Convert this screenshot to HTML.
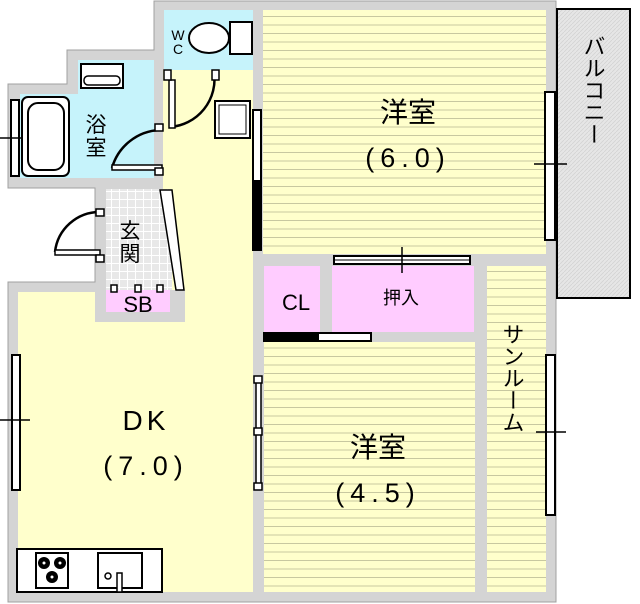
<!DOCTYPE html>
<html><head><meta charset="utf-8"><style>
html,body{margin:0;padding:0;background:#fff;}
svg{display:block}
text{font-family:"Liberation Sans","Noto Sans CJK JP",sans-serif;fill:#000}
</style></head><body>
<svg width="640" height="604" viewBox="0 0 640 604" xmlns="http://www.w3.org/2000/svg">
<defs>
<pattern id="ln" width="8" height="8.5" patternUnits="userSpaceOnUse"><rect width="8" height="8.5" fill="#ffffcc"/><line x1="0" y1="8" x2="8" y2="8" stroke="#c8c8a0" stroke-width="1"/></pattern>
<pattern id="gr" width="8" height="8" patternUnits="userSpaceOnUse"><rect width="8" height="8" fill="#e8e8e8"/><path d="M0 7.5H8M7.5 0V8" stroke="#fff" stroke-width="1"/></pattern>
<pattern id="ht" width="4" height="4" patternUnits="userSpaceOnUse"><rect width="4" height="4" fill="#e6e6e6"/><path d="M0 4L4 0" stroke="#d0d0d0" stroke-width="0.7"/></pattern>
</defs>
<!-- walls base -->
<g fill="#d4d4d4" stroke="#a0a0a0" stroke-width="1">
<polygon points="154,1 556,1 556,602 8,602 8,282 95,282 95,188 8,188 8,84 67,84 67,50 154,50"/>
</g>
<!-- rooms -->
<rect x="164" y="10" width="89" height="60" fill="#c6f3fb"/>
<polygon points="78,60 154,60 154,178 20,178 20,94 78,94" fill="#c6f3fb"/>
<polygon points="163,70 253,70 253,592 18,592 18,292 95,292 95,322 185,322 185,290 163,290" fill="#ffffcc"/>
<rect x="263" y="10" width="283" height="244" fill="url(#ln)"/>
<rect x="106" y="189" width="66" height="101" fill="url(#gr)"/>
<rect x="106" y="290" width="64" height="22" fill="#ffccff"/>
<rect x="264" y="266" width="56" height="66" fill="#ffccff"/>
<rect x="332" y="266" width="142" height="66" fill="#ffccff"/>
<rect x="264" y="342" width="211" height="250" fill="url(#ln)"/>
<rect x="487" y="266" width="59" height="326" fill="url(#ln)"/>
<!-- genkan slanted wall -->
<polygon points="160,190 172,190 184,290 176,290" fill="#fff" stroke="#000" stroke-width="1.5"/>
<!-- balcony -->
<rect x="557" y="9" width="73" height="289" fill="url(#ht)" stroke="#000" stroke-width="2"/>
<text x="593" y="90" font-size="22" text-anchor="middle" writing-mode="tb">バルコニー</text>
<!-- windows -->
<g fill="#fff" stroke="#000" stroke-width="2">
<rect x="545" y="92" width="10" height="148"/>
<rect x="546" y="355" width="9" height="160"/>
<rect x="12" y="355" width="8" height="135"/>
<rect x="11" y="100" width="8" height="76"/>
<rect x="334" y="256" width="136" height="8"/>
<rect x="253" y="110" width="8" height="140"/>
</g>
<g stroke="#000" stroke-width="1.5">
<line x1="534" y1="164" x2="567" y2="164"/><line x1="536" y1="432" x2="566" y2="432"/>
<line x1="0" y1="420" x2="30" y2="420"/><line x1="0" y1="138" x2="30" y2="138"/>
<line x1="402" y1="247" x2="402" y2="273"/>
<line x1="335" y1="260" x2="469" y2="260" stroke-width="1"/>
</g>
<rect x="253" y="180" width="8" height="70" fill="#000"/>
<rect x="264" y="333" width="107" height="8" fill="#fff" stroke="#000" stroke-width="2"/>
<rect x="264" y="333" width="55" height="8" fill="#000"/>
<!-- inner doors DK/4.5 -->
<rect x="256" y="378" width="5" height="110" fill="#fff" stroke="#000" stroke-width="1.5"/>
<!-- doors -->
<g fill="none" stroke="#000" stroke-width="2.5">
<path d="M214 72 A48 48 0 0 1 170 127"/>
<path d="M160 130 A52 52 0 0 0 112 168"/>
<path d="M100 212 A45 45 0 0 0 55 252"/>
</g>
<g fill="#fff" stroke="#000" stroke-width="1.5">
<rect x="169" y="80" width="6" height="48"/>
<rect x="112" y="165" width="50" height="5"/>
<rect x="55" y="250" width="45" height="5"/>
<rect x="164" y="70" width="7" height="10"/><rect x="212" y="70" width="7" height="10"/>
<rect x="155" y="124" width="8" height="7"/><rect x="155" y="168" width="8" height="7"/>
<rect x="96" y="209" width="8" height="7"/><rect x="96" y="255" width="8" height="7"/>
<rect x="111" y="285" width="6" height="7"/><rect x="135" y="285" width="6" height="7"/><rect x="157" y="285" width="6" height="7"/>
<rect x="254" y="376" width="8" height="7"/><rect x="254" y="428" width="8" height="7"/><rect x="254" y="483" width="8" height="7"/>
</g>
<!-- toilet -->
<rect x="230" y="22" width="22" height="32" fill="#fff" stroke="#000" stroke-width="2"/>
<ellipse cx="209" cy="38" rx="20" ry="15" fill="#fff" stroke="#000" stroke-width="2"/>
<text x="178" y="40" font-size="14" text-anchor="middle">W</text><text x="178" y="54" font-size="14" text-anchor="middle">C</text>
<!-- washbasin & bath -->
<rect x="81" y="64" width="42" height="24" fill="#fff" stroke="#000" stroke-width="2"/>
<rect x="84" y="76" width="36" height="9" rx="4" fill="#fff" stroke="#000" stroke-width="1.5"/>
<rect x="22" y="97" width="47" height="79" rx="6" fill="#fff" stroke="#000" stroke-width="2"/>
<rect x="28" y="103" width="36" height="67" rx="10" fill="none" stroke="#000" stroke-width="2"/>
<!-- hall box -->
<rect x="215" y="101" width="35" height="37" fill="#fff" stroke="#000" stroke-width="2"/>
<rect x="219" y="105" width="27" height="29" fill="none" stroke="#000" stroke-width="1"/>
<!-- kitchen -->
<rect x="17" y="549" width="145" height="43" fill="#fff" stroke="#000" stroke-width="2"/>
<rect x="36" y="553" width="32" height="35" fill="#fff" stroke="#000" stroke-width="2"/>
<g fill="#000"><circle cx="44" cy="563" r="6"/><circle cx="60" cy="563" r="6"/><circle cx="52" cy="577" r="6"/></g>
<g fill="#fff"><circle cx="44" cy="563" r="1.5"/><circle cx="60" cy="563" r="1.5"/><circle cx="52" cy="577" r="1.5"/></g>
<rect x="98" y="553" width="44" height="35" fill="#fff" stroke="#000" stroke-width="2"/>
<circle cx="108" cy="576" r="3" fill="none" stroke="#000" stroke-width="1.5"/>
<rect x="117" y="573" width="5" height="19" fill="#fff" stroke="#000" stroke-width="1.5"/>
<!-- labels -->
<text x="408" y="122" font-size="28" text-anchor="middle">洋室</text>
<text x="408" y="167" font-size="27" text-anchor="middle" letter-spacing="6">(6.0)</text>
<text x="146" y="430" font-size="28" text-anchor="middle" letter-spacing="4">DK</text>
<text x="146" y="475" font-size="27" text-anchor="middle" letter-spacing="6">(7.0)</text>
<text x="378" y="457" font-size="28" text-anchor="middle">洋室</text>
<text x="378" y="502" font-size="27" text-anchor="middle" letter-spacing="6">(4.5)</text>
<text x="512" y="378" font-size="22" text-anchor="middle" writing-mode="tb">サンルーム</text>
<text x="296" y="310" font-size="22" text-anchor="middle">CL</text>
<text x="401" y="304" font-size="18" text-anchor="middle">押入</text>
<text x="96" y="132" font-size="21" text-anchor="middle">浴</text>
<text x="96" y="155" font-size="21" text-anchor="middle">室</text>
<text x="130" y="238" font-size="21" text-anchor="middle">玄</text>
<text x="130" y="261" font-size="21" text-anchor="middle">関</text>
<text x="138" y="312" font-size="22" text-anchor="middle">SB</text>
</svg>
</body></html>
